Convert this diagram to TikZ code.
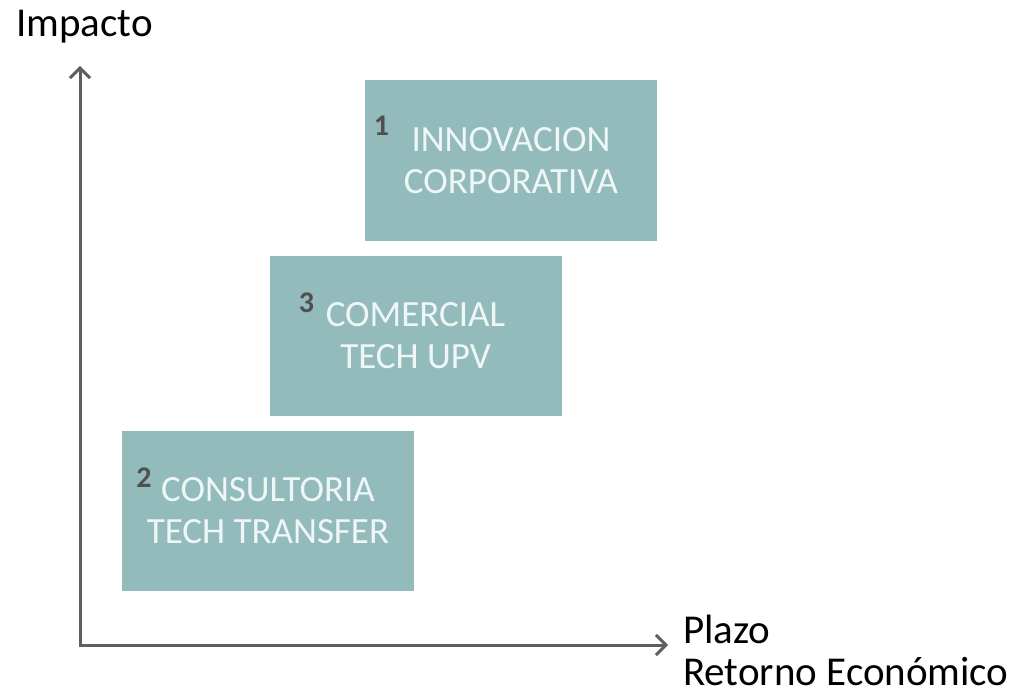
\documentclass[tikz,border=0pt]{standalone}
\usepackage{fontspec}
\setmainfont{Carlito}
\usepackage{tikz}
\usetikzlibrary{positioning,arrows.meta}

\definecolor{boxteal}{RGB}{148,187,187}
\definecolor{boxtext}{RGB}{238,246,246}
\definecolor{axisgray}{RGB}{95,95,95}
\definecolor{numgray}{RGB}{80,80,80}

\begin{document}
\begin{tikzpicture}[x=1pt, y=-1pt, node distance=2pt,
                stage node/.style={rectangle,fill=boxteal,text=boxtext,align=center,
                  minimum width=292pt,minimum height=160pt,inner sep=0pt,
                  font=\fontsize{37}{42}\selectfont},
                num node/.style={text=numgray,inner sep=0pt,font=\fontsize{30}{32}\selectfont\bfseries},
                axis label/.style={inner sep=0pt,font=\fontsize{41}{44}\selectfont}]

            \useasboundingbox (0,0) rectangle (1020,698);

            % Nodes
            \node[stage node] (innov) at (511,160.5) {INNOVACION\\CORPORATIVA};
            \node[stage node] (comercial) at (415.5,335.5) {COMERCIAL\\TECH UPV};
            \node[stage node] (consult) at (268,510.5) {CONSULTORIA\\TECH TRANSFER};

            \node[num node] (n1) at (381.5,126) {1};
            \node[num node] (n3) at (306.5,303) {3};
            \node[num node] (n2) at (144,478) {2};

            % Axes
            \coordinate (origin) at (80,645);
            \coordinate (ytop) at (80,66);
            \coordinate (xend) at (668,645);
            \draw[axisgray, line width=3pt, {Straight Barb[length=10pt,width=20pt]}-{Straight Barb[length=10pt,width=20pt]}]
            (ytop) -- (origin) -- (xend);

            \node[axis label, anchor=base] (impacto) at (84.5,37) {Impacto};
            \node[axis label, anchor=base west] (plazo) at (683,643) {Plazo};
            \node[axis label, anchor=base west] (retorno) at (683,685) {Retorno Económico};

        \end{tikzpicture}
\end{document}
